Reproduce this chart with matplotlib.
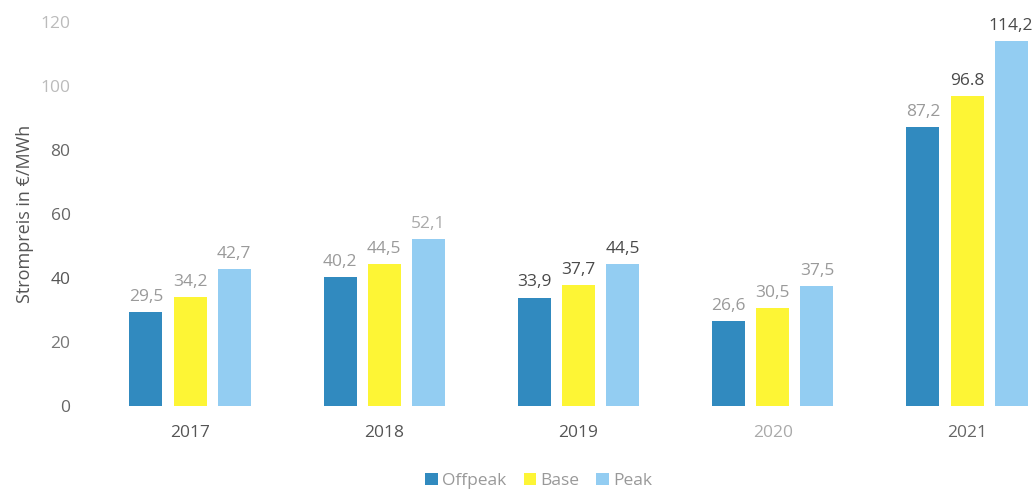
import numpy as np
import matplotlib
matplotlib.use("Agg")
import matplotlib.pyplot as plt
from matplotlib.patches import Patch

years = ["2017", "2018", "2019", "2020", "2021"]
offpeak = [29.5, 40.2, 33.9, 26.6, 87.2]
base = [34.2, 44.5, 37.7, 30.5, 96.8]
peak = [42.7, 52.1, 44.5, 37.5, 114.2]
offpeak_lbl = ["29,5", "40,2", "33,9", "26,6", "87,2"]
base_lbl = ["34,2", "44,5", "37,7", "30,5", "96.8"]
peak_lbl = ["42,7", "52,1", "44,5", "37,5", "114,2"]
series_names = ["Offpeak", "Base", "Peak"]
yticks = [0, 20, 40, 60, 80, 100, 120]

# scanned look: some labels darker than others
dark, light = "#4a4a4a", "#9a9a9a"
lbl_colors = [
    [light, light, dark, light, light],
    [light, light, dark, light, dark],
    [light, "#aaaaaa", dark, light, dark],
]
xtick_colors = ["#555555", "#555555", "#555555", "#aaaaaa", "#666666"]
ytick_colors = ["#666666", "#777777", "#555555", "#666666", "#666666", "#bbbbbb", "#bbbbbb"]

colors = ["#318abf", "#fdf535", "#93cdf2"]

plt.rcParams['font.family'] = ['Open Sans', 'DejaVu Sans']

fig = plt.figure(figsize=(10.36, 4.94), dpi=100)
ax = fig.add_axes([90 / 1036, 88 / 494, 946 / 1036, 384 / 494])

x = np.arange(len(years))
w = 0.17
off = 0.227
data = [offpeak, base, peak]
labels = [offpeak_lbl, base_lbl, peak_lbl]
for i, (vals, lbls) in enumerate(zip(data, labels)):
    xs = x + (i - 1) * off
    ax.bar(xs, vals, width=w, color=colors[i])
    for j, (xx, v, t) in enumerate(zip(xs, vals, lbls)):
        ax.text(xx, v + 2.2, t, ha="center", va="bottom", fontsize=12.5,
                color=lbl_colors[i][j])

ax.set_xlim(-0.515, 4.355)
ax.set_ylim(0, 120)
ax.set_yticks(yticks)
ax.set_yticklabels([str(t) for t in yticks], fontsize=12.5)
for lab, c in zip(ax.get_yticklabels(), ytick_colors):
    lab.set_color(c)
ax.set_xticks(x)
ax.set_xticklabels(years, fontsize=12.5)
for lab, c in zip(ax.get_xticklabels(), xtick_colors):
    lab.set_color(c)
ax.tick_params(axis="both", length=0)
ax.tick_params(axis="y", pad=14)
ax.tick_params(axis="x", pad=14)
for s in ax.spines.values():
    s.set_visible(False)
ax.set_ylabel("Strompreis in €/MWh", fontsize=13, color="#555555", labelpad=5)

handles = [Patch(facecolor=c, edgecolor="none") for c in colors]
leg = fig.legend(handles, series_names, loc="center", bbox_to_anchor=(0.52, 0.026),
                 ncol=3, frameon=False, fontsize=12.5, handlelength=0.7,
                 handleheight=0.7, handletextpad=0.25, columnspacing=1.0)
for t in leg.get_texts():
    t.set_color("#999999")

fig.savefig("out.png", dpi=100)
